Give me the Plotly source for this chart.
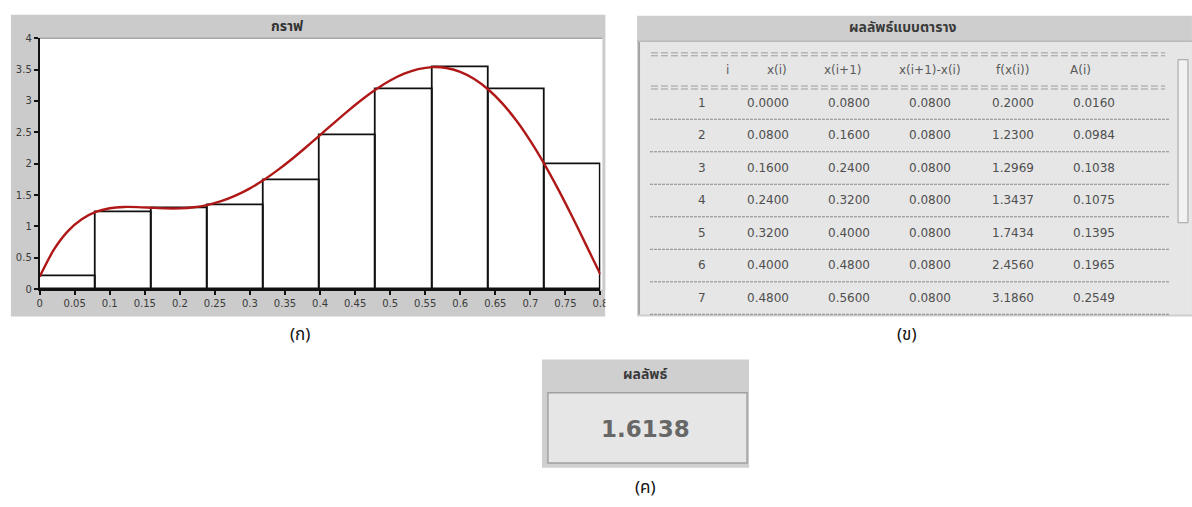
import plotly.graph_objects as go

W, H = 1192, 507

# ---------------- data ----------------
bar_left = [0.00, 0.08, 0.16, 0.24, 0.32, 0.40, 0.48, 0.56, 0.64, 0.72]
bar_width = 0.08
bar_height = [0.2000, 1.2300, 1.2969, 1.3437, 1.7434, 2.4560, 3.1860, 3.5396, 3.1820, 1.9944]

curve_x = [0.00, 0.02, 0.04, 0.06, 0.08, 0.10, 0.12, 0.14, 0.16, 0.18, 0.20,
           0.22, 0.24, 0.26, 0.28, 0.30, 0.32, 0.34, 0.36, 0.38, 0.40,
           0.42, 0.44, 0.46, 0.48, 0.50, 0.52, 0.54, 0.56, 0.58, 0.60,
           0.62, 0.64, 0.66, 0.68, 0.70, 0.72, 0.74, 0.76, 0.78, 0.80]
curve_f = [0.200, 0.625, 0.921, 1.114, 1.230, 1.289, 1.310, 1.308, 1.297, 1.287, 1.288,
           1.305, 1.344, 1.406, 1.494, 1.607, 1.743, 1.901, 2.075, 2.262, 2.456,
           2.652, 2.843, 3.023, 3.186, 3.325, 3.434, 3.507, 3.540, 3.526, 3.464,
           3.350, 3.182, 2.961, 2.687, 2.363, 1.994, 1.587, 1.150, 0.694, 0.232]

x_ticks = [0, 0.05, 0.1, 0.15, 0.2, 0.25, 0.3, 0.35, 0.4, 0.45, 0.5, 0.55, 0.6, 0.65, 0.7, 0.75, 0.8]
y_ticks = [0, 0.5, 1, 1.5, 2, 2.5, 3, 3.5, 4]

chart_title = "กราฟ"
table_title = "ผลลัพธ์แบบตาราง"
result_title = "ผลลัพธ์"
result_value = "1.6138"
panel_labels = ["(ก)", "(ข)", "(ค)"]

table_header = ["i", "x(i)", "x(i+1)", "x(i+1)-x(i)", "f(x(i))", "A(i)"]
table_i = ["1", "2", "3", "4", "5", "6", "7"]
table_xi = ["0.0000", "0.0800", "0.1600", "0.2400", "0.3200", "0.4000", "0.4800"]
table_xi1 = ["0.0800", "0.1600", "0.2400", "0.3200", "0.4000", "0.4800", "0.5600"]
table_dx = ["0.0800", "0.0800", "0.0800", "0.0800", "0.0800", "0.0800", "0.0800"]
table_fx = ["0.2000", "1.2300", "1.2969", "1.3437", "1.7434", "2.4560", "3.1860"]
table_a = ["0.0160", "0.0984", "0.1038", "0.1075", "0.1395", "0.1965", "0.2549"]

# ---------------- layout helpers (pixel -> paper) ----------------
def px(x):
    return x / W

def py(y):
    return 1 - y / H

shapes = []
annotations = []

def rect(x0, y0, x1, y1, fill, line_color=None, lw=0, layer="below"):
    shapes.append(dict(type="rect", xref="paper", yref="paper",
                       x0=px(x0), x1=px(x1), y0=py(y1), y1=py(y0),
                       fillcolor=fill, layer=layer,
                       line=dict(color=line_color or fill, width=lw)))

def hline(x0, x1, y, color, width=1, dash="solid", layer="below"):
    shapes.append(dict(type="line", xref="paper", yref="paper",
                       x0=px(x0), x1=px(x1), y0=py(y), y1=py(y), layer=layer,
                       line=dict(color=color, width=width, dash=dash)))

def vline(x, y0, y1, color, width=1, layer="below"):
    shapes.append(dict(type="line", xref="paper", yref="paper",
                       x0=px(x), x1=px(x), y0=py(y0), y1=py(y1), layer=layer,
                       line=dict(color=color, width=width)))

def text(x, y, s, size=12, color="#505050", bold=False, family="DejaVu Sans, Verdana, sans-serif",
         xanchor="center"):
    annotations.append(dict(xref="paper", yref="paper", x=px(x), y=py(y), text=(f"<b>{s}</b>" if bold else s),
                            showarrow=False, xanchor=xanchor, yanchor="middle",
                            font=dict(size=size, color=color, family=family)))

THAI = "Noto Sans Thai, Tahoma, Noto Sans, DejaVu Sans, sans-serif"

# ---------------- panel (ก): chart ----------------
PL, PR, PT, PB = 37, 603, 33, 290
rect(8, 9, 608, 318, "#cbcbcb")
rect(PL, PT, 605, PB, "#ffffff")
hline(PL, 605, PT, "#a8a8a8", 1.5)
text(287, 21, chart_title, size=14, color="#333333", bold=True, family=THAI)

fig = go.Figure()
fig.add_trace(go.Bar(x=bar_left, y=bar_height, width=bar_width, offset=0,
                     marker=dict(color="rgba(255,255,255,0)", line=dict(color="#111111", width=1.8)),
                     hoverinfo="skip", showlegend=False))
fig.add_trace(go.Scatter(x=curve_x, y=curve_f, mode="lines",
                         line=dict(color="#b01818", width=2.4, shape="spline", smoothing=0.6),
                         hoverinfo="skip", showlegend=False))

# clip the right part of the last x tick label like the screenshot
rect(608, 292, 636, 318, "#ffffff", layer="above")

text(300, 337, panel_labels[0], size=17, color="#111111", family=THAI)

# ---------------- panel (ข): table ----------------
rect(640, 10, 1200, 318, "#cecece")
rect(643, 37, 1200, 316, "#e6e6e6")
vline(642, 37, 316, "#9a9a9a", 1.5)
hline(640, 1200, 36, "#b0b0b0", 1)
text(908, 22, table_title, size=14, color="#3a3a3a", bold=True, family=THAI)

col_header_x = [731, 781, 848, 936, 1019, 1088]
col_data_x = [706, 772, 854, 936, 1019, 1101]
row_y0, row_dy = 99, 33.3

for yy in (48, 51, 82, 85):
    hline(654, 1173, yy, "#9c9c9c", 1, dash="7px,3px")
for k in range(len(table_i)):
    hline(653, 1177, row_y0 + row_dy * k + 17, "#8a8a8a", 1, dash="3px,1px")

for cx, h in zip(col_header_x, table_header):
    text(cx, 66, h, size=12, color="#5a5a5a")

columns = [table_i, table_xi, table_xi1, table_dx, table_fx, table_a]
for cx, col in zip(col_data_x, columns):
    for k, v in enumerate(col):
        text(cx, row_y0 + row_dy * k, v, size=12, color="#4f4f4f")

# scrollbar hint at the right edge
rect(1186, 55, 1196, 222, "#f2f2f2", "#a0a0a0", 1)

text(912, 337, panel_labels[1], size=17, color="#111111", family=THAI)

# ---------------- panel (ค): result ----------------
rect(544, 362, 753, 473, "#cfcfcf")
rect(550, 396, 751, 468, "#e6e6e6", "#a0a0a0", 1.5)
text(648, 377, result_title, size=14, color="#3a3a3a", bold=True, family=THAI)
text(648, 433, result_value, size=23, color="#676767", bold=True)
text(648, 494, panel_labels[2], size=17, color="#111111", family=THAI)

axis_font = dict(size=10, color="#3a3a3a", family="DejaVu Sans, sans-serif")
fig.update_layout(
    width=W, height=H, autosize=False,
    margin=dict(l=0, r=0, t=0, b=0, pad=0),
    paper_bgcolor="#ffffff", plot_bgcolor="rgba(0,0,0,0)",
    bargap=0, showlegend=False,
    shapes=shapes, annotations=annotations,
    xaxis=dict(domain=[px(PL), px(PR)], range=[0, 0.8], tickvals=x_ticks,
               ticks="outside", ticklen=4, tickwidth=1.5, tickcolor="#111111",
               showline=True, linecolor="#111111", linewidth=1.8, showgrid=False,
               zeroline=False, tickfont=axis_font, fixedrange=True),
    yaxis=dict(domain=[py(PB), py(PT)], range=[0, 4], tickvals=y_ticks,
               ticks="outside", ticklen=4, tickwidth=1.5, tickcolor="#111111",
               showline=True, linecolor="#111111", linewidth=1.8, showgrid=False,
               zeroline=False, tickfont=axis_font, fixedrange=True),
)

fig.write_html("out.html", config={"displayModeBar": False},
               post_script="document.body.style.margin='0';document.body.style.overflow='hidden';")
